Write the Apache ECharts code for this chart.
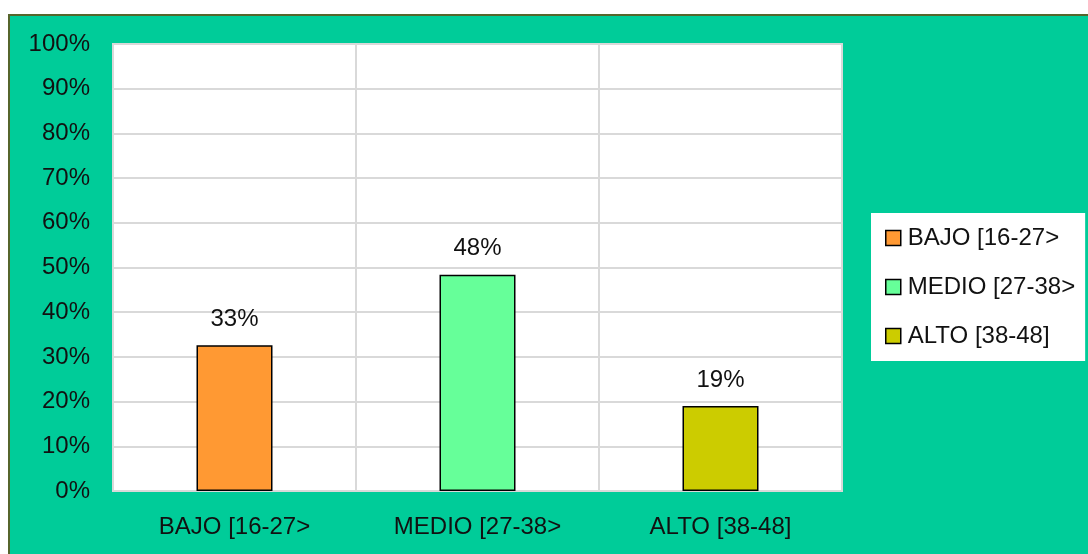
<!DOCTYPE html>
<html><head><meta charset="utf-8">
<script src="https://cdn.jsdelivr.net/npm/echarts@6/dist/echarts.min.js"></script>
<style>html,body{margin:0;padding:0;background:#fff}#c{width:1088px;height:554px}</style>
</head><body><div id="c"></div>
<script>
const categories = ['BAJO [16-27>', 'MEDIO [27-38>', 'ALTO [38-48]'];
const values = [32.6, 48.4, 19.0];
const colors = ['#FF9933', '#66FF99', '#CCCC00'];
const yTicks = [0, 10, 20, 30, 40, 50, 60, 70, 80, 90, 100];

const FONT = 'Liberation Sans, Arial, sans-serif';
const FS = 24;
const chart = echarts.init(document.getElementById('c'));
const series = categories.map((name, i) => ({
  name: name,
  type: 'bar',
  stack: 'all',
  barWidth: 76,
  data: values.map((v, j) => (j === i ? v : '-')),
  itemStyle: { color: colors[i], borderColor: '#000', borderWidth: 1.5 },
  label: {
    show: true, position: 'top', distance: 14,
    formatter: p => Math.round(p.value) + '%',
    color: '#111', fontSize: FS, fontFamily: FONT
  }
}));
chart.setOption({
  backgroundColor: '#fff',
  animation: false,
  graphic: [{
    type: 'rect', z: -10, silent: true,
    shape: { x: 9, y: 15, width: 1100, height: 560 },
    style: { fill: '#00CC99', stroke: '#56652C', lineWidth: 2 }
  }],
  grid: { left: 113, right: 246, top: 44, bottom: 63, show: true, backgroundColor: '#fff', borderColor: '#D9D9D9', borderWidth: 2 },
  legend: {
    orient: 'vertical', left: 871, top: 213,
    backgroundColor: '#fff', borderWidth: 0,
    padding: [13, 10, 13, 14], itemGap: 25,
    itemWidth: 15, itemHeight: 15,
    icon: 'rect',
    itemStyle: { borderColor: '#000', borderWidth: 1.5 },
    textStyle: { fontSize: FS, fontFamily: FONT, color: '#111', lineHeight: 24, padding: [0, 0, 0, 2] },
    data: categories
  },
  xAxis: {
    type: 'category', data: categories,
    axisLine: { show: true, lineStyle: { color: '#D9D9D9', width: 2 } },
    axisTick: { show: false },
    splitLine: { show: true, lineStyle: { color: '#D9D9D9', width: 2 } },
    axisLabel: { color: '#111', fontSize: FS, fontFamily: FONT, margin: 24 }
  },
  yAxis: {
    type: 'value', min: yTicks[0], max: yTicks[yTicks.length - 1], interval: 10,
    axisLine: { show: false }, axisTick: { show: false },
    splitLine: { lineStyle: { color: '#D9D9D9', width: 2 } },
    axisLabel: { color: '#111', fontSize: FS, fontFamily: FONT, margin: 23, formatter: v => v + '%' }
  },
  series: series
});
</script></body></html>
